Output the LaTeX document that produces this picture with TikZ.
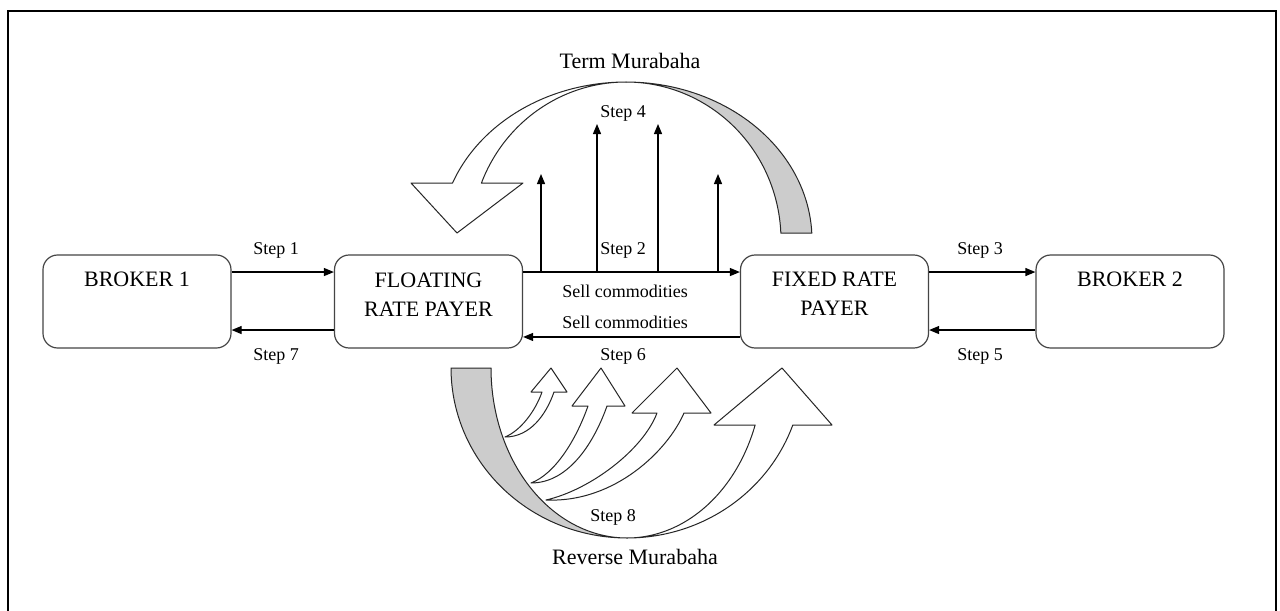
\documentclass[tikz,border=0pt]{standalone}
\usepackage{fontspec}
\setmainfont{Liberation Serif}
\usetikzlibrary{arrows.meta}
\definecolor{boxline}{HTML}{454545}
\definecolor{backband}{HTML}{CCCCCC}
\begin{document}
\begin{tikzpicture}[x=0.75pt,y=-0.75pt,
  box/.style={draw=boxline, rounded corners=11pt, line width=0.9pt,
    minimum width=141pt, minimum height=69.75pt, inner sep=0pt},
  conn/.style={-{Triangle[length=7.5pt,width=6pt]}, line width=0.9pt},
  bigtext/.style={font=\fontsize{16.5}{21.75}\selectfont, inner sep=0pt, align=center},
  smalltext/.style={font=\fontsize{13.5}{16}\selectfont, inner sep=0pt},
  band/.style={draw=black!85, line width=0.75pt, line join=round}]

% page and frame
\useasboundingbox (0,0) rectangle (1280,610);
\fill[white] (0,0) rectangle (1280,610);
\draw[line width=1.5pt] (8,620) -- (8,11) -- (1276,11) -- (1276,620);

% parties
\node[box] (b1) at (137,301.5) {};
\node[box] (fl) at (428.5,301.5) {};
\node[box] (fx) at (834.5,301.5) {};
\node[box] (b2) at (1130,301.5) {};
\node[bigtext] (b1t) at (137,279) {BROKER 1};
\node[bigtext] (flt) at (428.5,294.5) {FLOATING\\RATE PAYER};
\node[bigtext] (fxt) at (834.5,293.5) {FIXED RATE\\PAYER};
\node[bigtext] (b2t) at (1130,279) {BROKER 2};

% broker legs
\draw[conn] ([yshift=22.1pt]b1.east) -- ([yshift=22.1pt]fl.west);
\draw[conn] ([yshift=-21.4pt]fl.west) -- ([yshift=-21.4pt]b1.east);
\draw[conn] ([yshift=22.1pt]fx.east) -- ([yshift=22.1pt]b2.west);
\draw[conn] ([yshift=-21.4pt]b2.west) -- ([yshift=-21.4pt]fx.east);
\node[smalltext] (s1) at (276,250) {Step 1};
\node[smalltext] (s7) at (276,356) {Step 7};
\node[smalltext] (s3) at (980,250) {Step 3};
\node[smalltext] (s5) at (980,356) {Step 5};

% commodity sales between the payers
\draw[conn] ([yshift=22.1pt]fl.east) -- ([yshift=22.1pt]fx.west);
\draw[conn] ([yshift=-26.6pt]fx.west) -- ([yshift=-26.6pt]fl.east);
\node[smalltext] (s2) at (623,250) {Step 2};
\node[smalltext] (sc1) at (625,291) {Sell commodities};
\node[smalltext] (sc2) at (625,322) {Sell commodities};
\node[smalltext] (s6) at (623,356) {Step 6};

% step 4 payments rising from the sale line
\coordinate (v1) at (541,272);
\coordinate (v2) at (597,272);
\coordinate (v3) at (658,272);
\coordinate (v4) at (718,272);
\coordinate (w1) at (541,174);
\coordinate (w2) at (597,124);
\coordinate (w3) at (658,124);
\coordinate (w4) at (718,174);
\draw[conn] (v1) -- (w1);
\draw[conn] (v2) -- (w2);
\draw[conn] (v3) -- (w3);
\draw[conn] (v4) -- (w4);
\node[smalltext] (s4) at (623,113) {Step 4};

% term murabaha: curved band, back side shaded
\filldraw[band, fill=backband]
  plot[domain=270:357.5, samples=50, variable=\t] ({626+186*cos(\t)},{240+158*sin(\t)})
  -- plot[domain=357.5:270, samples=50, variable=\t] ({626+155*cos(\t)},{240+158*sin(\t)})
  -- cycle;
\filldraw[band, fill=white]
  plot[domain=201.1:270, samples=50, variable=\t] ({626+186*cos(\t)},{240+158*sin(\t)})
  -- plot[domain=270:201.1, samples=50, variable=\t] ({626+155*cos(\t)},{240+158*sin(\t)})
  -- (523,183) -- (457,233) -- (411,183) -- cycle;
\node[bigtext] (tm) at (630,61) {Term Murabaha};

% reverse murabaha: curved band, back side shaded
\filldraw[band, fill=backband]
  plot[domain=180:90, samples=50, variable=\t] ({627+176*cos(\t)},{368+170*sin(\t)})
  -- plot[domain=90:180, samples=50, variable=\t] ({627+136*cos(\t)},{368+170*sin(\t)})
  -- cycle;
\filldraw[band, fill=white]
  plot[domain=90:19.6, samples=50, variable=\t] ({627+176*cos(\t)},{368+170*sin(\t)})
  -- (832,425) -- (782,368) -- (714,425)
  -- plot[domain=19.6:90, samples=50, variable=\t] ({627+136*cos(\t)},{368+170*sin(\t)})
  -- cycle;

% smaller return arrows branching off the back band
\filldraw[band, fill=white]
  (505,437) .. controls (520,431) and (535,412) .. (542,392)
  -- (531,392) -- (551,368) -- (567,392) -- (554,392)
  .. controls (546,415) and (530,437) .. (505,437) -- cycle;
\filldraw[band, fill=white]
  (531,483) .. controls (555,474) and (576,440) .. (588,406)
  -- (572,406) -- (601,368) -- (625,406) -- (607,406)
  .. controls (595,440) and (570,483) .. (531,483) -- cycle;
\filldraw[band, fill=white]
  (546,500) .. controls (590,490) and (643,450) .. (657,413)
  -- (632,413) -- (677,368) -- (711,413) -- (684,413)
  .. controls (668,450) and (615,503) .. (546,500) -- cycle;

\node[smalltext] (s8) at (613,517) {Step 8};
\node[bigtext] (rm) at (635,557) {Reverse Murabaha};
\end{tikzpicture}
\end{document}
